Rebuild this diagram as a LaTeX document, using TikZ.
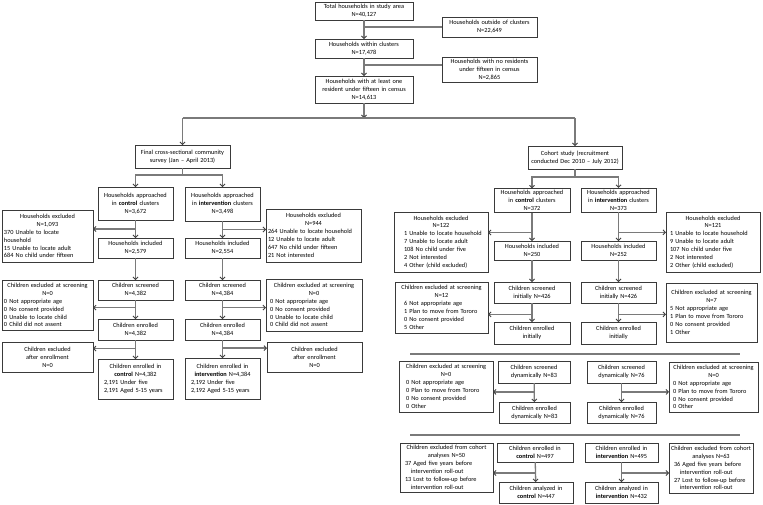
\documentclass[tikz,border=0pt]{standalone}
\usepackage{fontspec}
\setmainfont{Carlito}
\usetikzlibrary{arrows.meta,calc}
\definecolor{boxc}{HTML}{3A3A3A}
\definecolor{linec}{HTML}{7A7A7A}
\definecolor{tipc}{HTML}{404040}
\newcommand\bx[7][box]{\node[#1, minimum width={(#5-#3)*1pt}, minimum height={(#6-#4)*1pt}, text width={(#5-#3-4)*1pt}] (#2) at ({(#3+#5)/2},{(#4+#6)/2}) {#7\par};}
\newcommand\ctr[1]{{\centering #1\par}}
\newcommand\ind[1]{\leftskip=#1\relax}
\begin{document}
\begin{tikzpicture}[x=1pt,y=-1pt,
  box/.style={draw=boxc, line width=0.7pt, fill=white, inner sep=2pt, outer sep=0pt,
    font=\fontsize{6.3}{7.9}\selectfont, align=center},
  lbox/.style={box, align=left},
  ln/.style={draw=linec, line width=1.3pt},
  arr/.style={ln, -{Straight Barb[length=2.4pt,width=5pt,line width=0.9pt,color=tipc]}}]
\useasboundingbox[fill=white] (0,0) rectangle (763,504);

% ---------- top ----------
\bx{total}{315}{2}{413}{20}{Total households in study area\\N=40,127}
\bx{outside}{442}{17}{537}{37}{Households outside of clusters\\N=22,649}
\bx{within}{315}{39}{413}{58}{Households within clusters\\N=17,478}
\bx{nores}{442}{59}{537}{81}{Households with no residents\\under fifteen in census\\N=2,865}
\bx{atleast}{315}{76}{413}{103}{Households with at least one\\resident under fifteen in census\\N=14,613}
\coordinate (hl) at (0,118);
\coordinate (b1) at (0,65);

% ---------- survey ----------
\bx{survey}{135}{145}{230}{168}{Final cross-sectional community\\survey (Jan -- April 2013)}
\bx{sctl}{98}{187}{173}{220}{Households approached\\in \textbf{control} clusters\\N=3,672}
\bx{sint}{185}{187}{260}{221}{Households approached\\in \textbf{intervention} clusters\\N=3,498}
\bx[lbox]{sexc1}{2}{210}{93}{262}{\ctr{Households excluded\\N=1,093}370 Unable to locate\\household\\15 Unable to locate adult\\684 No child under fifteen}
\bx[lbox]{sexc2}{266}{209}{361}{262}{\ctr{Households excluded\\N=944}264 Unable to locate household\\12 Unable to locate adult\\647 No child under fifteen\\21 Not interested}
\bx{sinc1}{98}{238}{173}{258}{Households included\\N=2,579}
\bx{sinc2}{185}{238}{260}{258}{Households included\\N=2,554}
\bx{sscr1}{98}{280}{173}{300}{Children screened\\N=4,382}
\bx{sscr2}{185}{280}{260}{300}{Children screened\\N=4,384}
\bx[lbox]{sscx1}{2}{280}{93}{330}{\ctr{Children excluded at screening\\N=0}0 Not appropriate age\\0 No consent provided\\0 Unable to locate child\\0 Child did not assent}
\bx[lbox]{sscx2}{266}{279}{362}{331}{\ctr{Children excluded at screening\\N=0}\ind{2pt}0 Not appropriate age\\0 No consent provided\\0 Unable to locate child\\0 Child did not assent}
\bx{senr1}{98}{319}{173}{340}{Children enrolled\\N=4,382}
\bx{senr2}{185}{319}{260}{340}{Children enrolled\\N=4,384}
\bx{saex1}{2}{342}{93}{372}{Children excluded\\after enrollment\\N=0}
\bx{saex2}{267}{342}{362}{372}{Children excluded\\after enrollment\\N=0}
\bx[lbox]{sfin1}{98}{359}{173}{399}{\ctr{Children enrolled in\\\textbf{control} N=4,382}\ind{4pt}2,191 Under five\\2,191 Aged 5-15 years}
\bx[lbox]{sfin2}{185}{358}{260}{399}{\ctr{Children enrolled in\\\textbf{intervention} N=4,384}\ind{4pt}2,192 Under five\\2,192 Aged 5-15 years}

% ---------- cohort ----------
\bx{cohort}{528}{146}{622}{169}{Cohort study (recruitment\\conducted Dec 2010 -- July 2012)}
\bx{cctl}{494}{189}{570}{212}{Households approached\\in \textbf{control} clusters\\N=372}
\bx{cint}{581}{188}{656}{212}{Households approached\\in \textbf{intervention} clusters\\N=373}
\bx[lbox]{cexc1}{394}{212}{488}{272}{\ctr{Households excluded\\N=122}\ind{8pt}1 Unable to locate household\\7 Unable to locate adult\\108 No child under five\\2 Not interested\\4 Other (child excluded)}
\bx[lbox]{cexc2}{666}{212}{760}{272}{\ctr{Households excluded\\N=121}\ind{2pt}1 Unable to locate household\\9 Unable to locate adult\\107 No child under five\\2 Not interested\\2 Other (child excluded)}
\bx{cinc1}{494}{241}{570}{260}{Households included\\N=250}
\bx{cinc2}{581}{241}{656}{260}{Households included\\N=252}
\bx{cscr1}{494}{282}{570}{303}{Children screened\\initially N=426}
\bx{cscr2}{581}{282}{656}{303}{Children screened\\initially N=426}
\bx[lbox]{cscx1}{395}{282}{488}{333}{\ctr{Children excluded at screening\\N=12}\ind{7pt}6 Not appropriate age\\1 Plan to move from Tororo\\0 No consent provided\\5 Other}
\bx[lbox]{cscx2}{666}{283}{757}{342}{\ctr{Children excluded at screening\\N=7}\ind{2pt}5 Not appropriate age\\1 Plan to move from Tororo\\0 No consent provided\\1 Other}
\bx{cenr1}{494}{322}{570}{344}{Children enrolled\\initially}
\bx{cenr2}{581}{322}{656}{344}{Children enrolled\\initially}

\coordinate (sepAl) at (410,354); \coordinate (sepAr) at (740,354);
\coordinate (sepBl) at (410,435); \coordinate (sepBr) at (740,435);

\bx[lbox]{cdx1}{399}{361}{493}{412}{\ctr{Children excluded at screening\\N=0}\ind{5pt}0 Not appropriate age\\0 Plan to move from Tororo\\0 No consent provided\\0 Other}
\bx{cds1}{498}{361}{570}{383}{Children screened\\dynamically N=83}
\bx{cde1}{499}{402}{570}{423}{Children enrolled\\dynamically N=83}
\bx{cds2}{587}{361}{656}{383}{Children screened\\dynamically N=76}
\bx{cde2}{587}{402}{656}{423}{Children enrolled\\dynamically N=76}
\bx[lbox]{cdx2}{669}{362}{758}{412}{\ctr{Children excluded at screening\\N=0}\ind{2pt}0 Not appropriate age\\0 Plan to move from Tororo\\0 No consent provided\\0 Other}

\bx[lbox]{cax1}{400}{443}{493}{492}{\ctr{Children excluded from cohort\\analyses N=50}\ind{3pt}37 Aged five years before\\\hspace*{6pt}intervention roll-out\\13 Lost to follow-up before\\\hspace*{6pt}intervention roll-out}
\bx{cec}{497}{443}{573}{462}{Children enrolled in\\\textbf{control} N=497}
\bx{cac}{499}{482}{573}{503}{Children analyzed in\\\textbf{control} N=447}
\bx{cei}{585}{443}{658}{462}{Children enrolled in\\\textbf{intervention} N=495}
\bx{cai}{585}{482}{658}{503}{Children analyzed in\\\textbf{intervention} N=432}
\bx[lbox]{cax2}{669}{443}{753}{493}{\ctr{Children excluded from cohort\\analyses N=63}\ind{3pt}36 Aged five years before\\\hspace*{6pt}intervention roll-out\\27 Lost to follow-up before\\\hspace*{6pt}intervention roll-out}

% ---------- connectors ----------
\draw[arr] (total) -- (within);
\draw[ln] (total.south |- outside.west) -- (outside.west);
\draw[arr] (within) -- (atleast);
\draw[ln] (within.south |- b1) -- (nores.west |- b1);
\draw[arr] (atleast.south) -- (atleast.south |- hl);
\draw[ln] (survey.north |- hl) -- (cohort.north |- hl);
\draw[arr] (survey.north |- hl) -- (survey.north);
\draw[arr] (cohort.north |- hl) -- (cohort.north);

% survey
\draw[arr] (survey.south) -- ++(0,7) -| (sctl.north);
\draw[arr] (survey.south) -- ++(0,7) -| (sint.north);
\draw[arr] (sctl) -- (sinc1);
\draw[arr] (sint) -- (sinc2);
\draw[arr] ($(sctl.south)!.5!(sinc1.north)$) coordinate (m1) -- (sexc1.east |- m1);
\draw[arr] ($(sint.south)!.5!(sinc2.north)$) coordinate (m2) -- (sexc2.west |- m2);
\draw[arr] (sinc1) -- (sscr1);
\draw[arr] (sinc2) -- (sscr2);
\draw[arr] (sscr1) -- (senr1);
\draw[arr] (sscr2) -- (senr2);
\draw[arr] ($(sscr1.south)!.4!(senr1.north)$) coordinate (m3) -- (sscx1.east |- m3);
\draw[arr] ($(sscr2.south)!.4!(senr2.north)$) coordinate (m4) -- (sscx2.west |- m4);
\draw[arr] (senr1) -- (sfin1);
\draw[arr] (senr2) -- (sfin2);
\draw[arr] ($(senr1.south)!.45!(sfin1.north)$) coordinate (m5) -- (saex1.east |- m5);
\draw[arr] ($(senr2.south)!.45!(sfin2.north)$) coordinate (m6) -- (saex2.west |- m6);

% cohort
\draw[arr] (cohort.south) -- ++(0,8) -| (cctl.north);
\draw[arr] (cohort.south) -- ++(0,8) -| (cint.north);
\draw[arr] (cctl) -- (cinc1);
\draw[arr] (cint) -- (cinc2);
\draw[arr] ($(cctl.south)!.7!(cinc1.north)$) coordinate (n1) -- (cexc1.east |- n1);
\draw[arr] ($(cint.south)!.7!(cinc2.north)$) coordinate (n2) -- (cexc2.west |- n2);
\draw[arr] (cinc1) -- (cscr1);
\draw[arr] (cinc2) -- (cscr2);
\draw[arr] (cscr1) -- (cenr1);
\draw[arr] (cscr2) -- (cenr2);
\draw[arr] ($(cscr1.south)!.6!(cenr1.north)$) coordinate (n3) -- (cscx1.east |- n3);
\draw[arr] ($(cscr2.south)!.6!(cenr2.north)$) coordinate (n4) -- (cscx2.west |- n4);
\draw[ln] (sepAl) -- (sepAr);
\draw[arr] (cds1) -- (cde1);
\draw[arr] (cds2) -- (cde2);
\draw[arr] ($(cds1.south)!.47!(cde1.north)$) coordinate (n5) -- (cdx1.east |- n5);
\draw[arr] ($(cds2.south)!.47!(cde2.north)$) coordinate (n6) -- (cdx2.west |- n6);
\draw[ln] (sepBl) -- (sepBr);
\draw[arr] (cec) -- (cac);
\draw[arr] (cei) -- (cai);
\draw[arr] ($(cec.south)!.55!(cac.north)$) coordinate (n7) -- (cax1.east |- n7);
\draw[arr] ($(cei.south)!.55!(cai.north)$) coordinate (n8) -- (cax2.west |- n8);
\end{tikzpicture}
\end{document}
